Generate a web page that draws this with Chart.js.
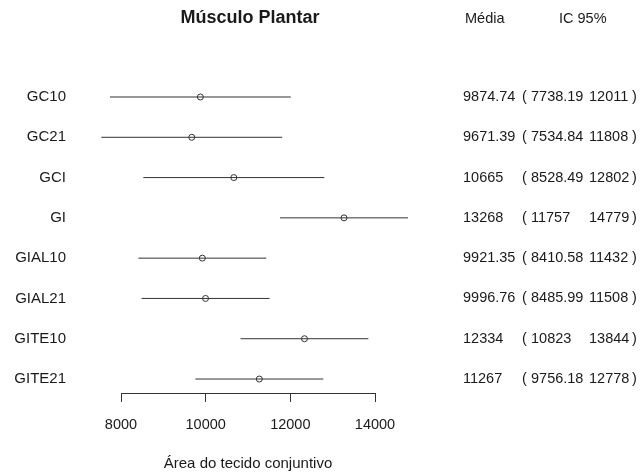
<!DOCTYPE html>
<html>
<head>
<meta charset="utf-8">
<script src="https://cdn.jsdelivr.net/npm/chart.js@4.4.1/dist/chart.umd.min.js"></script>
<style>
  html, body { margin: 0; padding: 0; background: #fff; }
  #wrap { width: 640px; height: 473px; position: relative; }
</style>
</head>
<body>
<div id="wrap"><canvas id="c" width="640" height="473"></canvas></div>
<script>
const categories = ['GC10', 'GC21', 'GCI', 'GI', 'GIAL10', 'GIAL21', 'GITE10', 'GITE21'];
const means = [9874.74, 9671.39, 10665, 13268, 9921.35, 9996.76, 12334, 11267];
const lower = [7738.19, 7534.84, 8528.49, 11757, 8410.58, 8485.99, 10823, 9756.18];
const upper = [12011, 11808, 12802, 14779, 11432, 11508, 13844, 12778];
const xTicks = [8000, 10000, 12000, 14000];
const titleText = 'Músculo Plantar';
const xTitle = 'Área do tecido conjuntivo';
const headMean = 'Média';
const headCI = 'IC 95%';

const FONT = "'Liberation Sans', Arial, Helvetica, sans-serif";
const INK = '#1a1a1a';
const LINE = '#333333';

const ciDatasets = categories.map((c, i) => ({
  type: 'scatter',
  label: c,
  data: [{ x: lower[i], y: i }, { x: upper[i], y: i }],
  showLine: true,
  borderColor: LINE,
  borderWidth: 1,
  pointRadius: 0,
  clip: false
}));

const meanDataset = {
  type: 'scatter',
  label: 'Média',
  data: means.map((m, i) => ({ x: m, y: i })),
  showLine: false,
  pointStyle: 'circle',
  pointRadius: 3,
  pointBackgroundColor: '#ffffff',
  pointBorderColor: LINE,
  pointBorderWidth: 1,
  clip: false
};

const textPlugin = {
  id: 'forestText',
  afterDraw(chart) {
    const ctx = chart.ctx;
    const ys = chart.scales.y;
    const xs = chart.scales.x;
    ctx.save();
    ctx.fillStyle = INK;
    ctx.textBaseline = 'middle';
    // title
    ctx.font = `bold 18px ${FONT}`;
    ctx.textAlign = 'center';
    ctx.fillText(titleText, (xs.left + xs.right) / 2 + 2, 18.5);
    // headers
    ctx.font = `14.5px ${FONT}`;
    ctx.textAlign = 'left';
    ctx.fillText(headMean, 465, 18.5);
    ctx.fillText(headCI, 559, 18.5);
    // rows
    categories.forEach((c, i) => {
      const y = ys.getPixelForValue(i);
      ctx.fillText(String(means[i]), 463, y);
      ctx.fillText('(', 522, y);
      ctx.fillText(String(lower[i]), 531, y);
      ctx.fillText(String(upper[i]), 589, y);
      ctx.fillText(')', 632, y);
    });
    ctx.restore();
  }
};

new Chart(document.getElementById('c'), {
  type: 'scatter',
  data: { datasets: [...ciDatasets, meanDataset] },
  options: {
    responsive: false,
    animation: false,
    events: [],
    layout: { padding: { left: 0, right: 265, top: 58, bottom: 0 } },
    plugins: { legend: { display: false }, tooltip: { enabled: false }, title: { display: false } },
    scales: {
      x: {
        type: 'linear',
        min: 8000,
        max: 14000,
        afterBuildTicks: (s) => { s.ticks = xTicks.map(v => ({ value: v })); },
        afterFit: (s) => { s.height = 80; },
        grid: { drawOnChartArea: false, drawTicks: true, tickLength: 9, color: LINE, lineWidth: 1 },
        border: { display: true, color: LINE, width: 1 },
        ticks: { color: INK, font: { family: FONT, size: 14.5 }, padding: 14, maxRotation: 0, callback: (v) => String(v) },
        title: { display: true, text: xTitle, color: INK, font: { family: FONT, size: 15 }, padding: { top: 0, bottom: 0 } }
      },
      y: {
        type: 'linear',
        reverse: true,
        min: -0.968,
        max: 7.347,
        afterBuildTicks: (s) => { s.ticks = categories.map((c, i) => ({ value: i })); },
        afterFit: (s) => { s.width = 121; s.paddingTop = 0; s.paddingBottom = 0; },
        grid: { display: false, drawTicks: false },
        border: { display: false },
        ticks: { color: INK, font: { family: FONT, size: 15 }, padding: 55, callback: (v) => categories[v] }
      }
    }
  },
  plugins: [textPlugin]
});
</script>
</body>
</html>
